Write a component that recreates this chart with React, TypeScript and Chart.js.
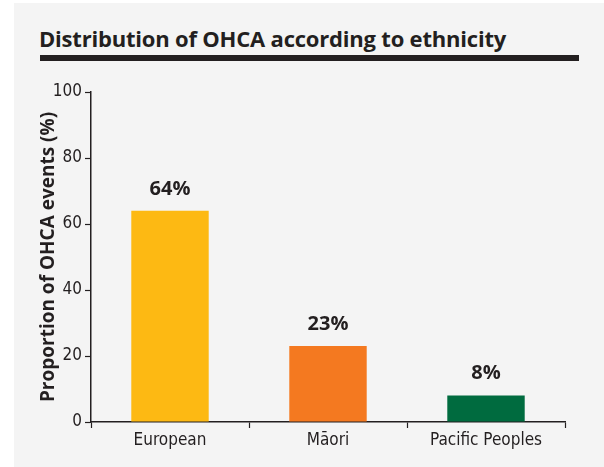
import React, { useEffect, useRef } from "react";
import { Chart, registerables } from "chart.js";

Chart.register(...registerables);

const categories = ["European", "Māori", "Pacific Peoples"];
const values = [64, 23, 8];
const valueLabels = ["64%", "23%", "8%"];
const barColors = ["#FDB913", "#F47920", "#006B3F"];
const yTicks = [0, 20, 40, 60, 80, 100];
const titleText = "Distribution of OHCA according to ethnicity";
const yAxisTitle = "Proportion of OHCA events (%)";

const INK = "#231F20";
const NARROW = "'Liberation Sans Narrow', 'DejaVu Sans Condensed', 'Arial Narrow', sans-serif";

export default function App() {
  const ref = useRef<HTMLCanvasElement>(null);

  useEffect(() => {
    document.body.style.margin = "0";
    const valuePlugin = {
      id: "valueLabels",
      afterDatasetsDraw(chart: any) {
        const ctx = chart.ctx;
        const meta = chart.getDatasetMeta(0);
        ctx.save();
        ctx.font = "bold 20px 'Open Sans'";
        ctx.fillStyle = INK;
        ctx.textAlign = "center";
        ctx.textBaseline = "middle";
        meta.data.forEach((bar: any, i: number) => {
          ctx.fillText(valueLabels[i], bar.x, bar.y - 22);
        });
        ctx.restore();
      },
    };

    const chart = new Chart(ref.current as HTMLCanvasElement, {
      type: "bar",
      data: {
        labels: categories,
        datasets: [
          {
            data: values,
            backgroundColor: barColors,
            barPercentage: 0.49,
            categoryPercentage: 1,
          },
        ],
      },
      options: {
        animation: false,
        responsive: false,
        maintainAspectRatio: false,
        layout: { padding: { left: 30, top: 92, right: 39, bottom: 0 } },
        plugins: { legend: { display: false }, tooltip: { enabled: false } },
        scales: {
          x: {
            offset: true,
            grid: {
              display: true,
              drawOnChartArea: false,
              drawTicks: true,
              tickLength: 6,
              tickColor: INK,
              tickWidth: 1.2,
              offset: true,
            },
            border: { display: true, color: INK, width: 1.5 },
            ticks: {
              font: { family: NARROW, size: 17 },
              color: INK,
              padding: 2,
              maxRotation: 0,
              autoSkip: false,
            },
            afterFit: (s: any) => {
              s.height = 45;
            },
          },
          y: {
            min: 0,
            max: 100,
            afterBuildTicks: (s: any) => {
              s.ticks = yTicks.map((v) => ({ value: v }));
            },
            grid: {
              display: true,
              drawOnChartArea: false,
              drawTicks: true,
              tickLength: 6,
              tickColor: INK,
              tickWidth: 1.2,
            },
            border: { display: true, color: INK, width: 1.5 },
            ticks: {
              font: { family: NARROW, size: 17 },
              color: INK,
              padding: 3,
            },
            title: {
              display: true,
              text: yAxisTitle,
              font: { family: "'Open Sans'", weight: "bold", size: 19 },
              color: INK,
              padding: { top: 7, bottom: 0 },
            },
            afterFit: (s: any) => {
              s.width = 61;
            },
          },
        },
      },
      plugins: [valuePlugin],
    });
    return () => chart.destroy();
  }, []);

  return (
    <div style={{ position: "relative", width: 604, height: 467, background: "#ffffff", overflow: "hidden" }}>
      <div style={{ position: "absolute", left: 14, top: 3, right: 0, bottom: 0, background: "#F4F4F4" }} />
      <div
        style={{
          position: "absolute",
          left: 39,
          top: 27,
          fontFamily: "'Open Sans', sans-serif",
          fontWeight: 700,
          fontSize: 22,
          lineHeight: "22px",
          color: INK,
          whiteSpace: "nowrap",
          letterSpacing: "-0.2px",
        }}
      >
        {titleText}
      </div>
      <div style={{ position: "absolute", left: 40, top: 55, width: 539, height: 6, background: INK }} />
      <canvas ref={ref} width={604} height={467} style={{ position: "absolute", left: 0, top: 0, width: 604, height: 467 }} />
    </div>
  );
}
